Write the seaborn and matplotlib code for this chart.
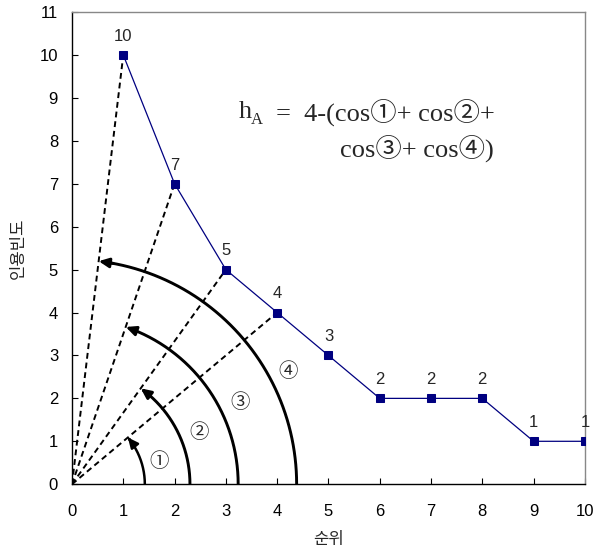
import numpy as np
import pandas as pd
import matplotlib
matplotlib.use("Agg")
import matplotlib.pyplot as plt
import seaborn as sns

# Citation counts by rank
ranks = [1, 2, 3, 4, 5, 6, 7, 8, 9, 10]
citations = [10, 7, 5, 4, 3, 2, 2, 2, 1, 1]

# Arc radii (in x-axis units) and the rank whose ray each arc ends on
arc_radii = [1.42, 2.30, 3.24, 4.38]
arc_targets = [4, 3, 2, 1]
arc_marks = ["①", "②", "③", "④"]
arc_mark_pos = [(1.70, 0.52), (2.48, 1.20), (3.27, 1.91), (4.22, 2.63)]

sns.set_style("ticks")
plt.rcParams["font.family"] = ["Liberation Sans", "Noto Sans CJK KR", "DejaVu Sans"]
plt.rcParams["axes.unicode_minus"] = False

fig = plt.figure(figsize=(5.95, 5.49), dpi=100)
ax = fig.add_axes([0.121, 0.118, 0.862, 0.860])

df = pd.DataFrame({"rank": ranks, "cites": citations})
sns.lineplot(data=df, x="rank", y="cites", color="#000080", linewidth=0.9,
             marker="s", markersize=5.5, markeredgecolor="#000080", ax=ax, zorder=5)

ax.set_xlim(0, 10)
ax.set_ylim(0, 11)
ax.set_xticks(range(0, 11))
ax.set_yticks(range(0, 12))
ax.tick_params(axis="x", direction="in", length=4, width=0.8, labelsize=12, pad=14, colors="black")
ax.tick_params(axis="y", direction="in", length=4, width=0.8, labelsize=12, pad=10, colors="black")
for s in ["left", "bottom"]:
    ax.spines[s].set_color("black")
    ax.spines[s].set_linewidth(1.0)
for s in ["top", "right"]:
    ax.spines[s].set_color("#888888")
    ax.spines[s].set_linewidth(1.0)

korean = ["Noto Sans CJK KR", "DejaVu Sans"]
ax.set_xlabel("순위", fontsize=12, labelpad=9, family=korean)
ax.set_ylabel("인용빈도", fontsize=12, labelpad=9, family=korean)

# Value labels above the markers
for r, c in zip(ranks, citations):
    ax.annotate(str(c), (r, c), xytext=(0, 8), textcoords="offset points",
                ha="center", va="bottom", fontsize=12)

# Dashed rays from the origin to the top-four points
for r, c in zip(ranks[:4], citations[:4]):
    ax.plot([0, r], [0, c], color="black", linestyle=(0, (3, 2)), linewidth=1.4, zorder=3)

# Arcs that are circular on screen
fig.canvas.draw()
bbox = ax.get_window_extent()
sx = bbox.width / 10.0
sy = bbox.height / 11.0
for rad, tgt in zip(arc_radii, arc_targets):
    c = citations[ranks.index(tgt)]
    ang = np.arctan2(c * sy, tgt * sx)
    th = np.linspace(0, ang, 200)
    xs = rad * np.cos(th)
    ys = rad * sx / sy * np.sin(th)
    lw = 1.8 if rad < 2 else 2.1
    ax.plot(xs[:-6], ys[:-6], color="black", linewidth=lw, solid_capstyle="butt", zorder=4)
    ax.annotate("", xy=(xs[-1], ys[-1]), xytext=(xs[-10], ys[-10]),
                arrowprops=dict(arrowstyle="-|>,head_length=0.6,head_width=0.28",
                                color="black", lw=lw, shrinkA=0, shrinkB=0), zorder=4)

for m, (mx, my) in zip(arc_marks, arc_mark_pos):
    ax.text(mx, my, m, ha="center", va="center", fontsize=14, family=korean)

# Formula
serif = ["Liberation Serif", "Noto Sans CJK KR"]
ax.text(3.25, 8.67, "h", fontsize=19, family=serif, ha="left", va="center")
ax.annotate("A", xy=(3.25, 8.67), xytext=(9, -6), textcoords="offset points",
            fontsize=12, family=serif, ha="left", va="center")
ax.text(3.98, 8.67, "=  4-(cos①+ cos②+", fontsize=19, family=serif, ha="left", va="center")
ax.text(5.22, 7.83, "cos③+ cos④)", fontsize=19, family=serif, ha="left", va="center")

fig.savefig("out.png", dpi=100)
